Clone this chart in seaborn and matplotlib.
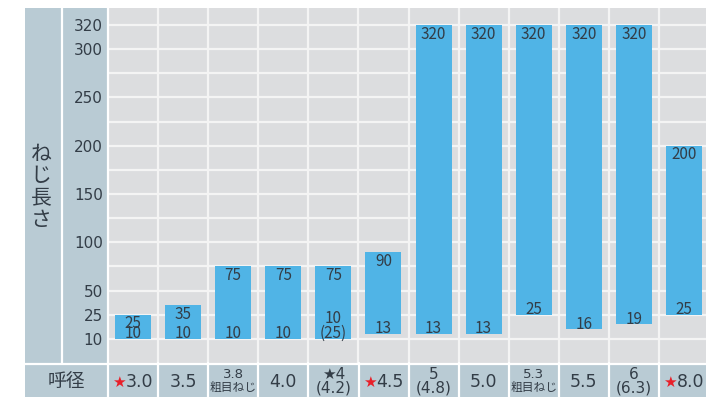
import numpy as np
import pandas as pd
import seaborn as sns
import matplotlib.pyplot as plt
from matplotlib.lines import Line2D
from matplotlib.patches import Rectangle
from matplotlib.offsetbox import TextArea, HPacker, AnnotationBbox

# data
sizes = ['3.0', '3.5', '3.8', '4.0', '4(4.2)', '4.5', '5(4.8)', '5.0', '5.3', '5.5', '6(6.3)', '8.0']
row_line1 = ['3.0', '3.5', '3.8', '4.0', '★4', '4.5', '5', '5.0', '5.3', '5.5', '6', '8.0']
row_line2 = ['', '', '粗目ねじ', '', '(4.2)', '', '(4.8)', '', '粗目ねじ', '', '(6.3)', '']
red_star = [True, False, False, False, False, True, False, False, False, False, False, True]
min_len = [10, 10, 10, 10, 10, 13, 13, 13, 25, 16, 19, 25]
max_len = [25, 35, 75, 75, 75, 90, 320, 320, 320, 320, 320, 200]
min_text = ['10', '10', '10', '10', '10\n(25)', '13', '13', '13', '25', '16', '19', '25']
ytick_vals = [10, 25, 50, 100, 150, 200, 250, 300, 320]
ygrid_vals = [75, 125, 175, 225, 275]

BAR = '#50b4e6'
PLOT_BG = '#dcdddf'
PANEL = '#b9cbd4'
TXT = '#333d47'
W, H = 706, 397

# piecewise axis: one grid step per band
knots_v = [-5, 10, 25, 50, 300, 320, 340]
knots_i = [-1, 0, 1, 2, 12, 13, 14]


def fwd(v):
    return np.interp(v, knots_v, knots_i)


def inv(i):
    return np.interp(i, knots_i, knots_v)


def fx(px):
    return px / W


def fy(py):
    return 1 - py / H


sns.set_style('white')
plt.rcParams['font.family'] = ['DejaVu Sans', 'Noto Sans CJK JP']

fig = plt.figure(figsize=(7.06, 3.97), dpi=100)
fig.patch.set_facecolor('white')

# left panel and bottom row background
fig.patches.append(Rectangle((fx(25), 0), fx(708) - fx(25), fy(8), transform=fig.transFigure,
                             facecolor=PANEL, edgecolor='none', zorder=-5))

ax = fig.add_axes([fx(108), fy(363), fx(709) - fx(108), fy(8) - fy(363)])
ax.set_zorder(1)
df = pd.DataFrame({'size': sizes, 'low': min_len, 'height': np.array(max_len) - np.array(min_len)})
sns.barplot(data=df, x='size', y='height', bottom=df['low'], color=BAR, saturation=1,
            width=0.72, errorbar=None, edgecolor='none', linewidth=0, ax=ax, zorder=3)

ax.set_yscale('function', functions=(fwd, inv))
ax.set_ylim(-5, 334)
ax.set_xlim(-0.5, len(sizes) - 0.5)
ax.set_facecolor(PLOT_BG)
for s in ax.spines.values():
    s.set_visible(False)

ax.set_yticks(ytick_vals)
ax.set_yticklabels([str(v) for v in ytick_vals])
ax.set_yticks(ygrid_vals, minor=True)
ax.set_xticks(np.arange(0.5, len(sizes) - 1, 1), minor=True)
ax.set_xticks(range(len(sizes)))
ax.set_xticklabels([])
ax.tick_params(axis='both', which='both', length=0)
ax.tick_params(axis='y', pad=3.6, labelsize=11, labelcolor=TXT)
ax.set_xlabel('')
ax.set_ylabel('')
ax.grid(True, which='both', axis='y', color='#f4f4f4', linewidth=1.6, zorder=1)
ax.grid(True, which='minor', axis='x', color='#f4f4f4', linewidth=1.6, zorder=1)
ax.grid(False, which='major', axis='x')
ax.set_axisbelow(True)

# value labels in the bars
for i in range(len(sizes)):
    ax.annotate(str(max_len[i]), (i, max_len[i]), xytext=(0, -0.5), textcoords='offset points',
                ha='center', va='top', fontsize=11, color=TXT, family='Noto Sans CJK JP',
                linespacing=0.9, zorder=4)
    ax.annotate(min_text[i], (i, min_len[i]), xytext=(0, -2.5), textcoords='offset points',
                ha='center', va='bottom', fontsize=11, color=TXT, family='Noto Sans CJK JP',
                linespacing=0.85, zorder=4)

# bottom row (呼径)
xt = ax.get_xaxis_transform()


def yrow(py):
    return (363 - py) / 355


for i in range(len(sizes)):
    if row_line2[i] == '':
        if red_star[i]:
            box = HPacker(children=[TextArea('★', textprops=dict(color='#e8202a', size=11)),
                                    TextArea(row_line1[i], textprops=dict(color=TXT, size=12.5))],
                          pad=0, sep=0, align='baseline')
            ab = AnnotationBbox(box, (i, yrow(382)), xycoords=xt, frameon=False,
                                box_alignment=(0.5, 0.5), annotation_clip=False)
            ax.add_artist(ab)
        else:
            ax.text(i, yrow(382), row_line1[i], transform=xt, ha='center', va='center',
                    fontsize=12.5, color=TXT, clip_on=False)
    else:
        small = '粗目' in row_line2[i]
        ax.text(i, yrow(374.5), row_line1[i], transform=xt, ha='center', va='center',
                fontsize=9.5 if small else 11, color=TXT, clip_on=False)
        ax.text(i, yrow(388), row_line2[i], transform=xt, ha='center', va='center',
                fontsize=8.5 if small else 11, color=TXT, clip_on=False,
                family='Noto Sans CJK JP' if small else 'DejaVu Sans')

fig.text(fx(66), fy(382), '呼径', ha='center', va='center', fontsize=13.5, color=TXT,
         family='Noto Sans CJK JP', zorder=6)
fig.text(fx(41), fy(187), 'ね\nじ\n長\nさ', ha='center', va='center', fontsize=15, color=TXT,
         family='Noto Sans CJK JP', linespacing=1.0, zorder=6)

# white separators of the table
sep = dict(transform=fig.transFigure, color='white', linewidth=1.6, zorder=5)
fig.lines.append(Line2D([fx(62), fx(62)], [fy(8), fy(363)], **sep))
fig.lines.append(Line2D([fx(108), fx(108)], [fy(8), 0], **sep))
fig.lines.append(Line2D([fx(25), 1], [fy(363.5), fy(363.5)], **sep))
for b in np.arange(0.5, len(sizes) - 1, 1):
    px = 108 + (b + 0.5) * 50.1
    fig.lines.append(Line2D([fx(px), fx(px)], [fy(363), 0], **sep))

fig.savefig('out.png', dpi=100)
